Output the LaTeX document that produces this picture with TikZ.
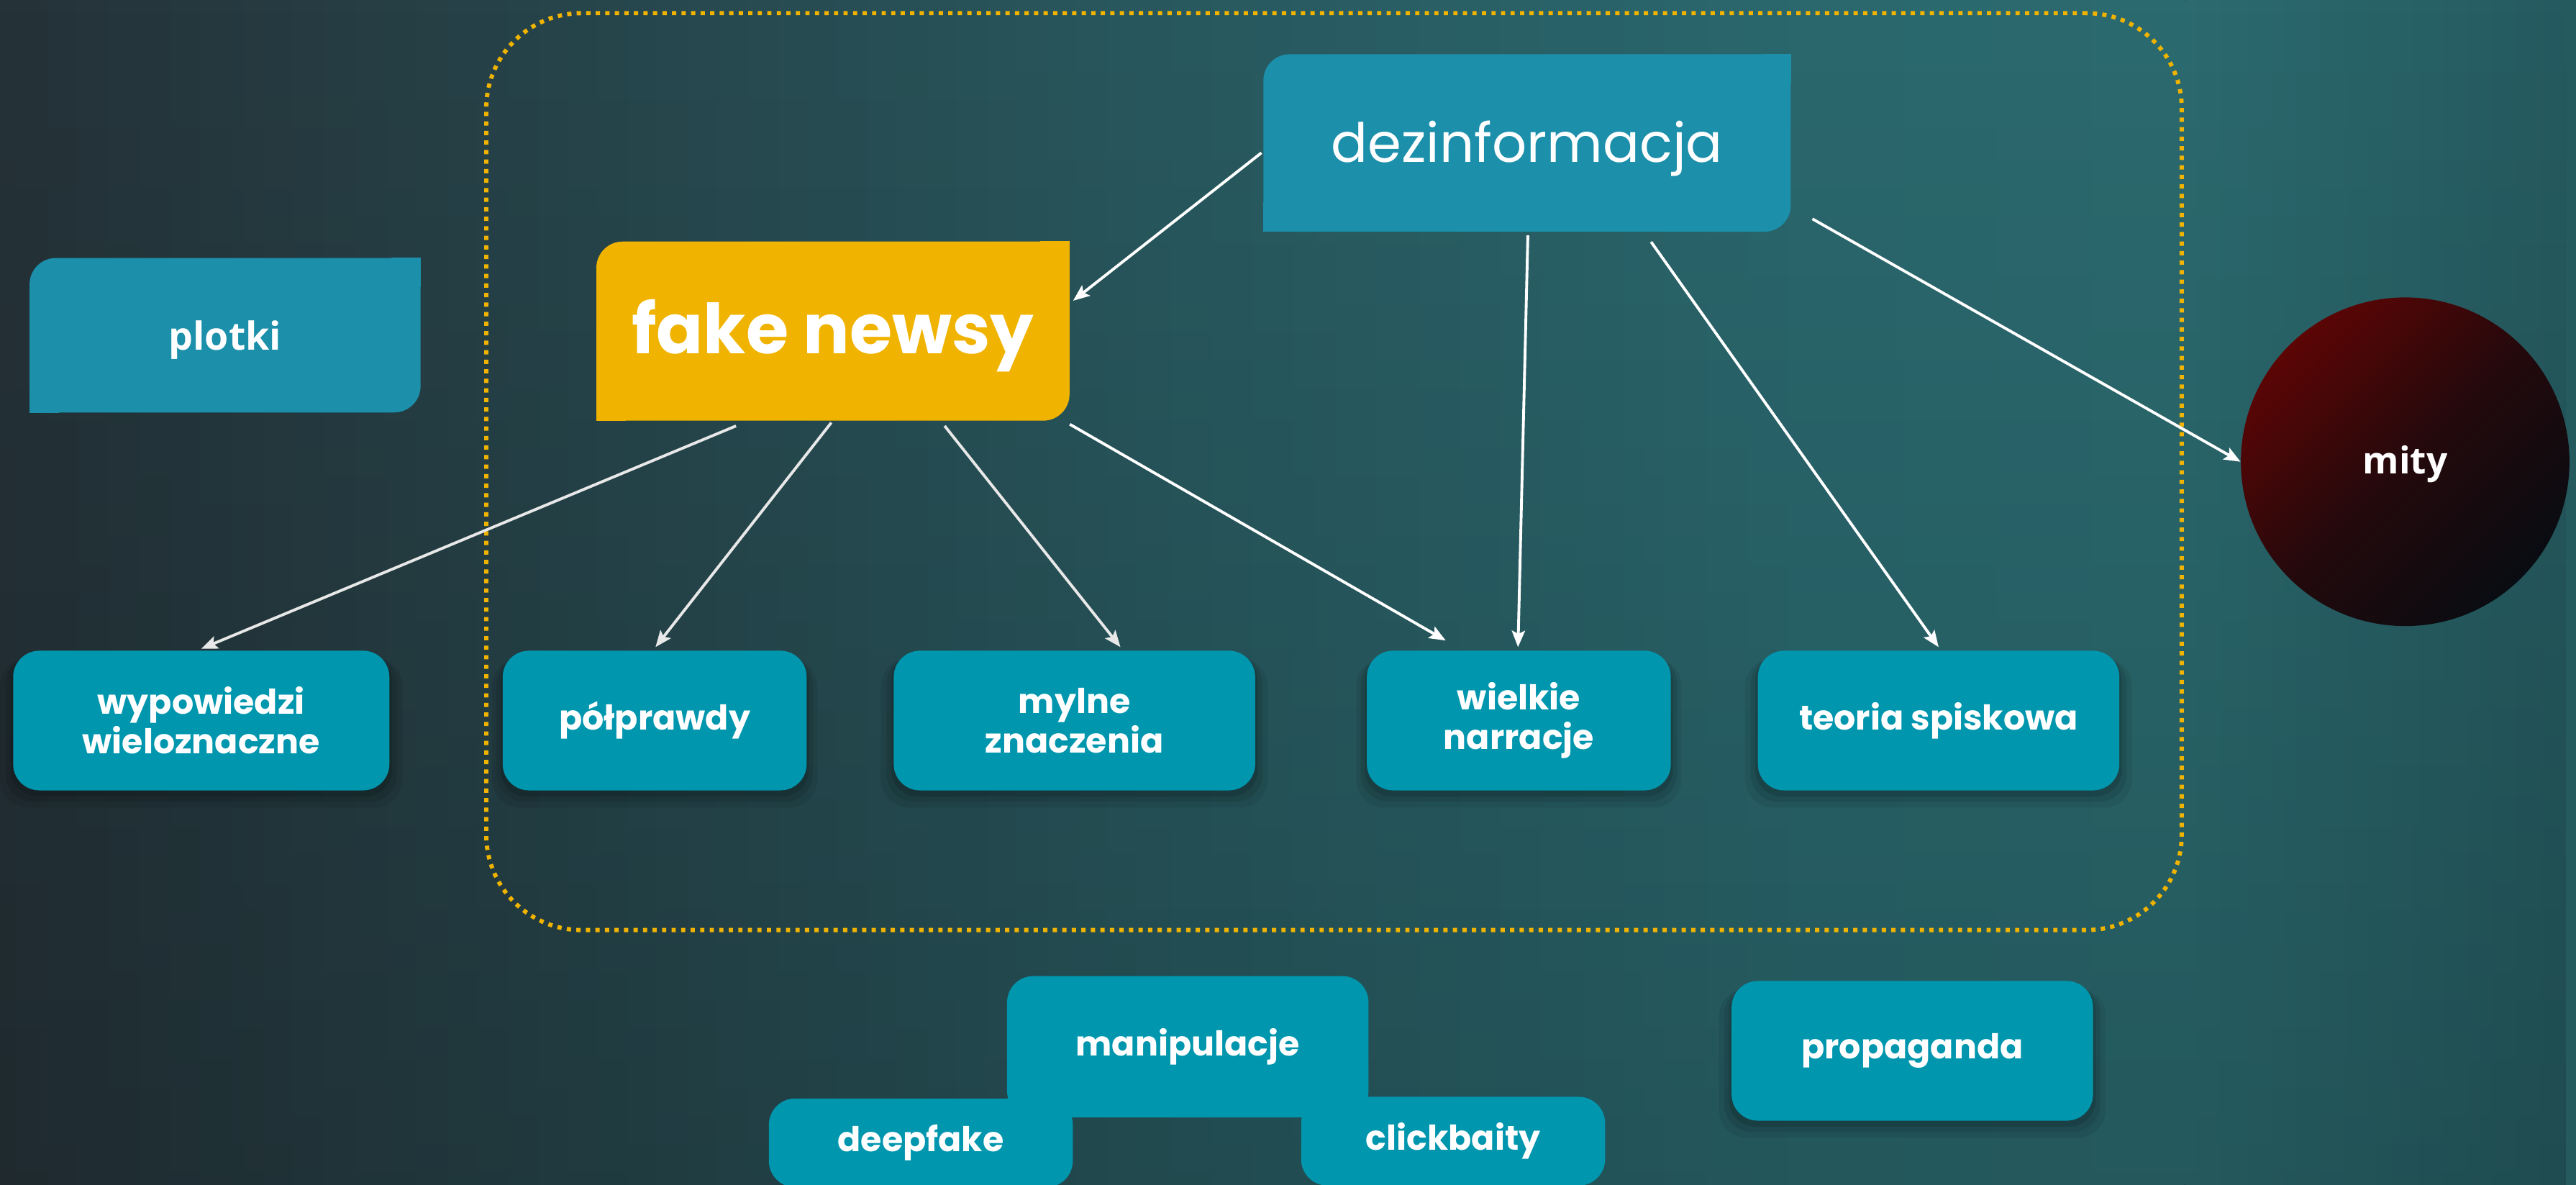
\documentclass[tikz,border=0pt]{standalone}
\usepackage{fontspec}
\setmainfont{Poppins}
\newfontfamily\opensans{Open Sans}
\usetikzlibrary{arrows.meta,shadows,fadings}

\definecolor{boxblue}{RGB}{28,143,171}
\definecolor{boxteal}{RGB}{0,150,174}
\definecolor{gold}{RGB}{240,179,0}
\definecolor{bga}{RGB}{37,50,56}
\definecolor{bgb}{RGB}{38,66,72}
\definecolor{bgc}{RGB}{40,88,94}
\definecolor{bgd}{RGB}{42,104,110}
\definecolor{bge}{RGB}{43,106,111}
\definecolor{bgf}{RGB}{37,90,95}
\definecolor{mityred}{RGB}{92,5,5}
\definecolor{mitymid}{RGB}{36,9,12}
\definecolor{mitydark}{RGB}{9,12,18}

\begin{document}
\begin{tikzpicture}[x=1pt,y=-1pt,
  conn/.style={draw=white, line width=1.7pt, -{Stealth[length=10pt,width=8pt,inset=2pt]}},
  connl/.style={conn, draw=white!82!gray},
  softshadow/.style={
    general shadow={fill=black, opacity=0.07, shadow yshift=-7pt, shadow scale=1.07},
    general shadow={fill=black, opacity=0.09, shadow yshift=-5pt, shadow scale=1.04},
    general shadow={fill=black, opacity=0.12, shadow yshift=-3pt, shadow scale=1.015}},
  tealbox/.style={fill=boxteal, rounded corners=16pt, minimum height=85pt, inner sep=0pt,
    text=white, font=\bfseries\fontsize{20.8}{24}\selectfont, align=center},
  topbox/.style={rounded corners=16pt, inner sep=0pt, text=white}]

\useasboundingbox (0,0) rectangle (1568,721);
\clip (0,0) rectangle (1568,721);

% background
\fill[left color=bga, right color=bgb] (0,0) rectangle (300.5,721);
\fill[left color=bgb, right color=bgc] (300,0) rectangle (700.5,721);
\fill[left color=bgc, right color=bgd] (700,0) rectangle (1100.5,721);
\fill[left color=bgd, right color=bge] (1100,0) rectangle (1330.5,721);
\fill[left color=bge, right color=bgf] (1330,0) rectangle (1568,721);
\fill[black, path fading=north, fill opacity=0.16] (0,0) rectangle (1568,721);

% dotted frame
\node[draw=gold, line width=2.6pt, dash pattern=on 2.6pt off 3.2pt, rounded corners=58pt,
  minimum width=1032pt, minimum height=558pt, inner sep=0pt] (frame) at (812,287) {};

% top nodes
\node[topbox, fill=boxblue, minimum width=321pt, minimum height=108pt,
  font=\fontsize{33}{40}\selectfont] (dez) at (929.5,87) {\raisebox{-3.5pt}[\height][\depth]{dezinformacja}};
\fill[boxblue] (dez.north east) rectangle ++(-18pt,-18pt);
\fill[boxblue] (dez.south west) rectangle ++(18pt,18pt);

\node[topbox, fill=gold, minimum width=288pt, minimum height=109pt,
  font=\bfseries\fontsize{42}{50}\selectfont] (fake) at (507,201.5) {\raisebox{-3pt}[\height][\depth]{fake newsy}};
\fill[gold] (fake.north east) rectangle ++(-18pt,-18pt);
\fill[gold] (fake.south west) rectangle ++(18pt,18pt);

\node[topbox, fill=boxblue, minimum width=238pt, minimum height=94pt,
  font=\opensans\bfseries\fontsize{23.5}{28}\selectfont] (plotki) at (137,204) {\raisebox{-3pt}[\height][\depth]{plotki}};
\fill[boxblue] (plotki.north east) rectangle ++(-18pt,-18pt);
\fill[boxblue] (plotki.south west) rectangle ++(18pt,18pt);

\node[circle, minimum size=200pt, inner sep=0pt, top color=mityred, bottom color=mitydark,
  middle color=mitymid, shading angle=45, text=white,
  font=\opensans\bfseries\fontsize{22.5}{27}\selectfont] (mity) at (1464,281) {\raisebox{-1.5pt}[\height][\depth]{mity}};

% bottom row
\node[tealbox, softshadow, minimum width=229pt] (wyp) at (122.5,438.5) {wypowiedzi\\wieloznaczne};
\node[tealbox, softshadow, minimum width=185pt] (polp) at (398.5,438.5) {półprawdy};
\node[tealbox, softshadow, minimum width=220pt] (mylne) at (654,438.5) {mylne\\znaczenia};
\node[tealbox, softshadow, minimum width=185pt] (wielkie) at (924.5,438.5) {wielkie\\narracje};
\node[tealbox, softshadow, minimum width=220pt] (teoria) at (1180,438.5) {teoria spiskowa};
\node[tealbox, softshadow, minimum width=220pt] (prop) at (1164,639.5) {propaganda};

\node[tealbox, minimum width=185pt, minimum height=54pt] (deep) at (560.5,695.5) {deepfake};
\node[tealbox, minimum width=185pt, minimum height=54pt] (click) at (884.5,694.5) {clickbaity};
\node[tealbox, minimum width=220pt, minimum height=86pt] (manip) at (723,637) {manipulacje};

% connectors
\draw[conn] ([shift={(-1,6)}]dez.west) -- ([shift={(2,-18.5)}]fake.east);
\draw[conn] ([shift={(0.5,2)}]dez.south) -- ([shift={(-0.5,-2)}]wielkie.north);
\draw[conn] ([shift={(75.5,6)}]dez.south) -- ([shift={(0,-2)}]teoria.north);
\draw[conn] ([shift={(13,-8)}]dez.south east) -- (mity.west);

\draw[connl] ([shift={(-59,3)}]fake.south) -- ([shift={(0,-1)}]wyp.north);
\draw[connl] ([shift={(-1,1)}]fake.south) -- ([shift={(0.5,-2)}]polp.north);
\draw[connl] ([shift={(68,3)}]fake.south) -- ([shift={(28,-2)}]mylne.north);
\draw[conn] ([shift={(0,2)}]fake.south east) -- ([shift={(-44.5,-6)}]wielkie.north);

\end{tikzpicture}
\end{document}
